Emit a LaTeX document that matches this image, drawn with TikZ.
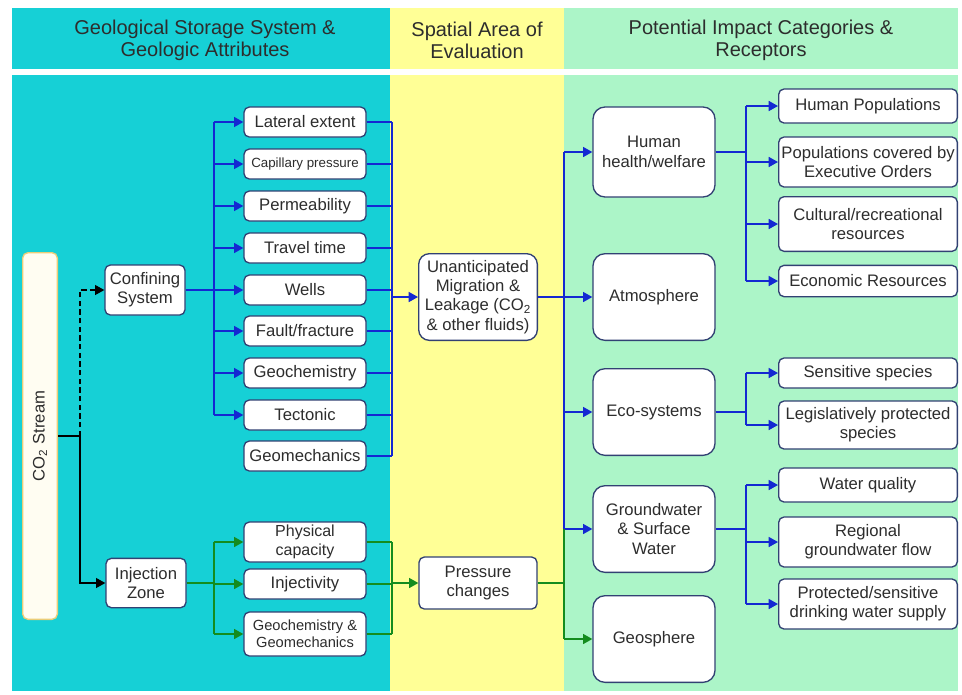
\documentclass[tikz,border=0pt]{standalone}
\usepackage{fontspec}
\setmainfont{Liberation Sans}
\usetikzlibrary{arrows.meta}
\definecolor{cyanbg}{RGB}{22,208,214}
\definecolor{yellowbg}{RGB}{255,255,150}
\definecolor{greenbg}{RGB}{172,245,200}
\definecolor{boxline}{RGB}{50,65,115}
\definecolor{txt}{RGB}{45,45,45}
\definecolor{flowblue}{RGB}{20,40,210}
\definecolor{flowgreen}{RGB}{20,140,30}
\definecolor{co2line}{RGB}{235,205,120}

\begin{document}
\begin{tikzpicture}[x=0.75pt,y=-0.75pt,
  box/.style={draw=boxline, fill=white, rounded corners=4pt, line width=1pt,
    align=center, inner sep=1pt, text=txt, font=\fontsize{12.5}{14.5}\selectfont},
  attr/.style={box, minimum width=91.5pt, minimum height=22.5pt},
  cat/.style={box, rounded corners=9pt, minimum width=91.5pt, minimum height=65pt},
  rec/.style={box, minimum width=134pt},
  bl/.style={flowblue, line width=1.2pt},
  gl/.style={flowgreen, line width=1.2pt},
  tip/.style={-{Triangle[length=7pt,width=7.5pt]}},
  head/.style={text=txt, align=center, font=\fontsize{15}{16.5}\selectfont}
]
\useasboundingbox (0,0) rectangle (962,694);

% column bands
\fill[cyanbg]   (12,8)  rectangle (390,69);
\fill[yellowbg] (390,8) rectangle (564,69);
\fill[greenbg]  (564,8) rectangle (958,69);
\fill[cyanbg]   (12,75)  rectangle (390,691);
\fill[yellowbg] (390,75) rectangle (564,691);
\fill[greenbg]  (564,75) rectangle (958,691);

% column headings
\node[head] (h1) at (205,40) {Geological Storage System \&\\Geologic Attributes};
\node[head] (h2) at (477,40) {Spatial Area of\\Evaluation};
\node[head] (h3) at (761,40) {Potential Impact Categories \&\\Receptors};

% source and storage system
\node[box, draw=co2line, fill={rgb,255:red,255;green,253;blue,242}, minimum width=26pt, minimum height=275pt] (co2) at (40,436)
  {\rotatebox{90}{CO\textsubscript{2} Stream}};
\node[box, minimum width=60pt, minimum height=37.5pt] (conf) at (145,290) {Confining\\System};
\node[box, minimum width=60pt, minimum height=37pt] (inj) at (146,583) {Injection\\Zone};

% confining system attributes
\node[attr] (a1) at (305,122) {Lateral extent};
\node[attr, font=\fontsize{10}{12}\selectfont] (a2) at (305,164) {Capillary pressure};
\node[attr] (a3) at (305,206) {Permeability};
\node[attr] (a4) at (305,248) {Travel time};
\node[attr] (a5) at (305,290) {Wells};
\node[attr] (a6) at (305,331) {Fault/fracture};
\node[attr] (a7) at (305,373) {Geochemistry};
\node[attr] (a8) at (305,415) {Tectonic};
\node[attr] (a9) at (305,456) {Geomechanics};

% injection zone attributes
\node[attr, minimum height=30pt, font=\fontsize{12}{14}\selectfont] (g1) at (305,542) {Physical\\capacity};
\node[attr] (g2) at (305,584) {Injectivity};
\node[attr, minimum height=33pt, font=\fontsize{11}{13}\selectfont] (g3) at (305,634) {Geochemistry \&\\Geomechanics};

% spatial area
\node[box, rounded corners=8pt, minimum width=89pt, minimum height=65pt] (unant) at (478,297)
  {Unanticipated\\Migration \&\\Leakage (CO\textsubscript{2}\\\& other fluids)};
\node[box, minimum width=88.5pt, minimum height=39pt] (press) at (478,583) {Pressure\\changes};

% impact categories
\node[cat, minimum height=67.5pt] (hh) at (654,152) {Human\\health/welfare};
\node[cat] (atm) at (654,297) {Atmosphere};
\node[cat] (eco) at (654,412) {Eco-systems};
\node[cat] (gw) at (654,529) {Groundwater\\\& Surface\\Water};
\node[cat] (geo) at (654,639) {Geosphere};

% receptors
\node[rec, minimum height=25.5pt] (r1) at (868,106) {Human Populations};
\node[rec, minimum height=37.5pt] (r2) at (868,162) {Populations covered by\\Executive Orders};
\node[rec, minimum height=41pt] (r3) at (868,224) {Cultural/recreational\\resources};
\node[rec, minimum height=23.5pt] (r4) at (868,281) {Economic Resources};
\node[rec, minimum height=22.5pt] (r5) at (868,373) {Sensitive species};
\node[rec, minimum height=36pt] (r6) at (868,425) {Legislatively protected\\species};
\node[rec, minimum height=25.5pt] (r7) at (868,485) {Water quality};
\node[rec, minimum height=37.5pt] (r8) at (868,542) {Regional\\groundwater flow};
\node[rec, minimum height=37.5pt] (r9) at (868,604) {Protected/sensitive\\drinking water supply};

% bus positions
\coordinate (split) at (80,436);
\coordinate (lb) at (214,290);
\coordinate (rb) at (392,298);
\coordinate (cb) at (564,298);
\coordinate (eb) at (746,298);

% CO2 stream split
\draw[black, line width=0.9pt] (co2.east) -- (split);
\draw[black, line width=0.9pt, dash pattern=on 4pt off 2.5pt, tip] (split) |- (conf.west);
\draw[black, line width=0.9pt, tip] (split) |- (inj.west);

% confining system fan-out and collection
\draw[bl] (conf.east) -- (lb |- conf.east);
\draw[bl] (lb |- a1) -- (lb |- a8);
\foreach \n in {a1,a2,a3,a4,a5,a6,a7,a8}
  \draw[bl, tip] (lb |- \n) -- (\n.west);
\foreach \n in {a1,a2,a3,a4,a5,a6,a7,a8,a9}
  \draw[bl] (\n.east) -- (rb |- \n);
\draw[bl] (rb |- a1) -- (rb |- a9);
\draw[bl, tip] (rb |- unant) -- (unant.west);

% injection zone fan-out and collection
\draw[gl] (inj.east) -- (lb |- inj.east);
\draw[gl] (lb |- g1) -- (lb |- g3);
\foreach \n in {g1,g2,g3}
  \draw[gl, tip] (lb |- \n) -- (\n.west);
\foreach \n in {g1,g2,g3}
  \draw[gl] (\n.east) -- (rb |- \n);
\draw[gl] (rb |- g1) -- (rb |- g3);
\draw[gl, tip] (rb |- press) -- (press.west);

% spatial area to impact categories
\draw[bl] (unant.east) -- (cb |- unant);
\draw[bl] (cb |- hh) -- (cb |- gw);
\foreach \n in {hh,atm,eco,gw}
  \draw[bl, tip] (cb |- \n) -- (\n.west);
\draw[gl] (press.east) -- (cb |- press);
\draw[gl] (cb |- gw) -- (cb |- geo);
\draw[gl, tip] (cb |- geo) -- (geo.west);

% impact categories to receptors
\draw[bl] (hh.east) -- (eb |- hh);
\draw[bl] (eb |- r1) -- (eb |- r4);
\foreach \n in {r1,r2,r3,r4}
  \draw[bl, tip] (eb |- \n) -- (\n.west);
\draw[bl] (eco.east) -- (eb |- eco);
\draw[bl] (eb |- r5) -- (eb |- r6);
\foreach \n in {r5,r6}
  \draw[bl, tip] (eb |- \n) -- (\n.west);
\draw[bl] (gw.east) -- (eb |- gw);
\draw[bl] (eb |- r7) -- (eb |- r9);
\foreach \n in {r7,r8,r9}
  \draw[bl, tip] (eb |- \n) -- (\n.west);
\end{tikzpicture}
\end{document}
